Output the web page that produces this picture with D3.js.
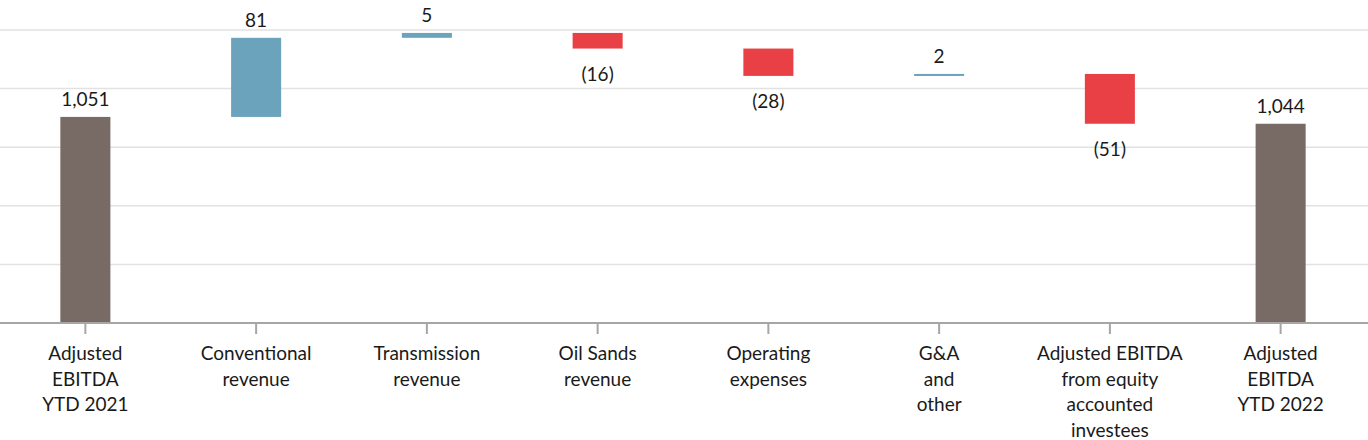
<!DOCTYPE html>
<html><head><meta charset="utf-8">
<script src="https://cdn.jsdelivr.net/npm/d3@7/dist/d3.min.js"></script>
<style>
html,body{margin:0;padding:0;background:#fff;}
svg{display:block;}
text{font-family:Lato,"Open Sans",sans-serif;fill:#1a1a1a;}
</style></head>
<body>
<svg id="chart" width="1368" height="440"></svg>
<script>
const categories = [
  ["Adjusted","EBITDA","YTD 2021"],
  ["Conventional","revenue"],
  ["Transmission","revenue"],
  ["Oil Sands","revenue"],
  ["Operating","expenses"],
  ["G&A","and","other"],
  ["Adjusted EBITDA","from equity","accounted","investees"],
  ["Adjusted","EBITDA","YTD 2022"]
];
const values = [1051, 81, 5, -16, -28, 2, -51, 1044];
const types = ["total","delta","delta","delta","delta","delta","delta","total"];
const valueLabels = ["1,051","81","5","(16)","(28)","2","(51)","1,044"];
const gridTicks = [840, 900, 960, 1020, 1080, 1140];

const colors = {total:"#786a64", pos:"#6aa3bb", neg:"#e94045"};

const svg = d3.select("#chart");
const W = 1368, H = 440;
const margin = {left:0, right:2, top:30, bottom:117};
const plotBottom = H - margin.bottom; // 323

// compute waterfall segments
let running = 0;
const segs = values.map((v,i) => {
  let y0, y1;
  if (types[i] === "total") { y0 = gridTicks[0]; y1 = v; running = v; }
  else { y0 = running; y1 = running + v; running = y1; }
  return {i, v, y0, y1, type: types[i]};
});

const x = d3.scaleBand().domain(d3.range(categories.length))
  .range([0, 1366]).paddingInner(0.707).paddingOuter(0.3535);
const y = d3.scaleLinear().domain([gridTicks[0], gridTicks[gridTicks.length-1]])
  .range([plotBottom, margin.top]);

// gridlines
svg.append("g").selectAll("line").data(gridTicks.slice(1)).join("line")
  .attr("x1", 0).attr("x2", W)
  .attr("y1", d => y(d)).attr("y2", d => y(d))
  .attr("stroke", "#e2e2e2").attr("stroke-width", 1.5);

// bars
svg.append("g").selectAll("rect").data(segs).join("rect")
  .attr("x", d => x(d.i))
  .attr("width", x.bandwidth())
  .attr("y", d => y(Math.max(d.y0, d.y1)))
  .attr("height", d => Math.max(2, Math.abs(y(d.y0) - y(d.y1))))
  .attr("fill", d => d.type === "total" ? colors.total : (d.v >= 0 ? colors.pos : colors.neg));

// value labels
svg.append("g").selectAll("text").data(segs).join("text")
  .attr("x", d => x(d.i) + x.bandwidth()/2)
  .attr("y", d => d.v >= 0 ? y(Math.max(d.y0, d.y1)) - 11 : y(Math.min(d.y0, d.y1)) + 32)
  .attr("text-anchor", "middle")
  .attr("font-size", 19)
  .text((d,i) => valueLabels[i]);

// x axis
const xAxis = d3.axisBottom(x).tickSize(11).tickFormat(() => "");
const gx = svg.append("g").attr("transform", `translate(0,${plotBottom})`).call(xAxis);
gx.select(".domain").attr("d", `M0,0H${W}`).attr("stroke", "#a6a6a6").attr("stroke-width", 2);
gx.selectAll(".tick line").attr("stroke", "#a6a6a6").attr("stroke-width", 2);

// category labels
const lab = svg.append("g").selectAll("text").data(categories).join("text")
  .attr("text-anchor", "middle")
  .attr("font-size", 19)
  .attr("x", (d,i) => x(i) + x.bandwidth()/2)
  .attr("y", plotBottom + 37);
lab.selectAll("tspan").data(d => d).join("tspan")
  .attr("x", function(){ return d3.select(this.parentNode).attr("x"); })
  .attr("dy", (d,j) => j === 0 ? 0 : 25.5)
  .text(d => d);
</script>
</body></html>
